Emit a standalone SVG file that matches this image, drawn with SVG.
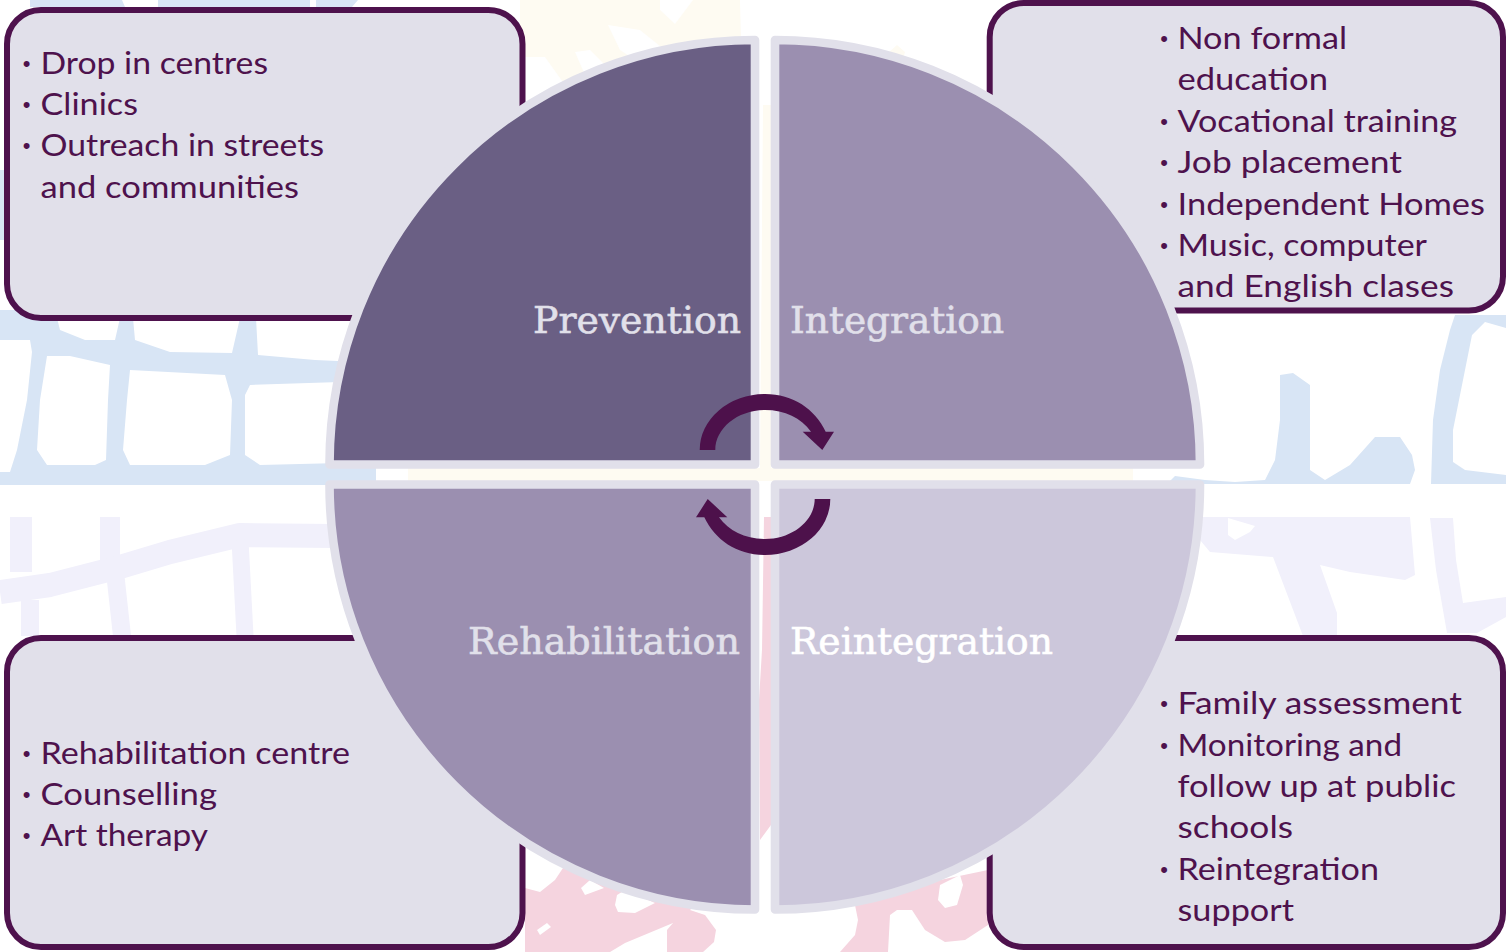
<svg xmlns="http://www.w3.org/2000/svg" width="1506" height="952" viewBox="0 0 1506 952">
<style>
.box{fill:#e1e0ea;stroke:#4e124d;stroke-width:6}
.q{stroke:#e1e0ea;stroke-width:8.6;stroke-linejoin:round}
.t{font-family:"Lato","Noto Sans",sans-serif;font-size:31px;fill:#4e124d}
.b{font-family:"Liberation Sans",sans-serif;font-size:22px;fill:#4e124d;text-anchor:middle}
.h{font-family:"DejaVu Serif","Liberation Serif",serif;font-size:38px;fill:#e1e0ea;stroke:#e1e0ea;stroke-width:.6}
.blue{fill:#d8e5f5}.lav{fill:#f1f0fb}.pink{fill:#f5d4df}.cream{fill:#fefbf2}.w{fill:#fff}
.lavl{fill:none;stroke:#f1f0fb;stroke-linejoin:round}
</style>
<defs>
<path id="curve" d="M699.7 450A65.3 56 0 0 1 765 394C793 394 815 409 825.7 431.7L834 431.7L822.3 450L802.7 431.7L811 431.7C801 418 785 410 765 410C738 410 715.3 428 715.3 450Z"/>
</defs>
<rect width="1506" height="952" fill="#fff"/>
<g id="background">
<path class="cream" d="M520 0H740L741 40L735 100H520Z"/>
<path class="w" d="M660 0H693L675 24L660 10ZM608 25L640 30L665 50L650 70L620 50ZM575 52L590 50L610 70L585 75ZM525 57L545 57L565 85L525 105Z"/>
<path class="cream" d="M408 468H1133V481H408ZM763 105H771V468H760Z"/>
<path class="cream" d="M880 60L897 45L905 52L900 70Z"/>
<path class="blue" d="M0 310H340V465H376V485H0Z"/>
<path class="w" d="M0 340H30L32 352L27 400L17 450L10 472H0ZM47 356H70L110 365L108 400L106 460L95 465H47L37 450L40 400ZM130 370L225 375L232 400L230 455L205 465H130L123 450L127 400ZM250 385L340 382V463L260 465L245 455V395ZM57 318H120L115 340L85 340L60 330ZM133 318H240L232 353L170 352L135 340ZM256 318H360V362L315 360L258 355Z"/>
<path class="blue" d="M30 0H122L125 7H30ZM158 0H310V7H158ZM316 0H358L352 7H316ZM0 170H4V240H0Z"/>
<path class="blue" d="M1167 484L1175 476L1205 480L1235 482L1265 480L1275 460L1280 420V375L1293 373L1310 385V470L1325 480L1350 465L1375 437H1400L1412 455L1415 470L1410 484Z"/>
<path class="blue" d="M1431 484L1433 420L1440 370L1450 330L1455 315H1506V328L1485 322L1472 335L1465 370L1453 430V462L1465 470L1506 475V484Z"/>
<g class="lavl">
<path stroke-width="22" d="M21 517V572"/>
<path stroke-width="20" d="M110 517V560"/>
<path stroke-width="24" d="M0 592L50 585L120 567L170 552L240 535L335 536"/>
<path stroke-width="18" d="M115 572L122 636M30 600L30 636"/>
<path stroke-width="17" d="M240 540L245 636"/>
</g>
<path class="lav" d="M1200 517H1410L1415 575L1405 580L1350 572L1320 565L1337 613V636H1303L1273 557L1210 552L1200 540Z"/>
<path class="w" d="M1228 518L1255 526L1250 532L1235 540L1228 535Z"/>
<path class="lav" d="M1430 518H1453L1456 560L1463 603L1506 597V617L1477 633H1447L1436 570Z"/>
<path class="pink" d="M525 888L540 892L555 880L565 865L600 850L700 900L690 910L705 915L716 930L714 942L703 952H667V930L673 923L625 943L610 952H525Z"/>
<path class="w" d="M581 888L590 880L604 888L585 895ZM617 895L625 890L655 903L635 913L618 912L615 905ZM537 930L547 923L551 927L540 935Z"/>
<path class="pink" d="M855 905L858 920L855 935L840 952H888L890 915L897 910L912 910L925 930L945 942L965 940L988 925V870L940 880Z"/>
<path class="w" d="M940 885L960 875L963 885L957 905L945 908L938 900Z"/>
<path class="pink" d="M764 517H771V825L760 840L759 700L762 650Z"/>
</g>
<g id="node-prevention-list">
<rect class="box" x="7" y="10" width="515.5" height="308" rx="34"/>
<text class="b" x="26.5" y="71">•</text><text class="b" x="26.5" y="112">•</text><text class="b" x="26.5" y="153">•</text>
<text class="t" x="40.5" y="73.6" textLength="227.5" lengthAdjust="spacingAndGlyphs">Drop in centres</text>
<text class="t" x="40.5" y="114.5" textLength="97.5" lengthAdjust="spacingAndGlyphs">Clinics</text>
<text class="t" x="40.5" y="155.5" textLength="283.5" lengthAdjust="spacingAndGlyphs">Outreach in streets</text>
<text class="t" x="40.5" y="197.6" textLength="258.5" lengthAdjust="spacingAndGlyphs">and communities</text>
</g>
<g id="node-integration-list">
<rect class="box" x="989.7" y="3" width="513.3" height="307.5" rx="34"/>
<text class="b" x="1164" y="46">•</text><text class="b" x="1164" y="129">•</text><text class="b" x="1164" y="170">•</text><text class="b" x="1164" y="212">•</text><text class="b" x="1164" y="253">•</text>
<text class="t" x="1177.5" y="49" textLength="169.5" lengthAdjust="spacingAndGlyphs">Non formal</text>
<text class="t" x="1177.5" y="90" textLength="150.5" lengthAdjust="spacingAndGlyphs">education</text>
<text class="t" x="1177.5" y="132" textLength="279.5" lengthAdjust="spacingAndGlyphs">Vocational training</text>
<text class="t" x="1177.5" y="173" textLength="224.5" lengthAdjust="spacingAndGlyphs">Job placement</text>
<text class="t" x="1177.5" y="215" textLength="307.5" lengthAdjust="spacingAndGlyphs">Independent Homes</text>
<text class="t" x="1177.5" y="256" textLength="249.5" lengthAdjust="spacingAndGlyphs">Music, computer</text>
<text class="t" x="1177.5" y="297" textLength="276.5" lengthAdjust="spacingAndGlyphs">and English clases</text>
</g>
<g id="node-rehabilitation-list">
<rect class="box" x="7" y="638" width="515.5" height="309" rx="34"/>
<text class="b" x="26.5" y="761">•</text><text class="b" x="26.5" y="802">•</text><text class="b" x="26.5" y="843">•</text>
<text class="t" x="40.5" y="763.6" textLength="309.5" lengthAdjust="spacingAndGlyphs">Rehabilitation centre</text>
<text class="t" x="40.5" y="804.5" textLength="176.5" lengthAdjust="spacingAndGlyphs">Counselling</text>
<text class="t" x="40.5" y="846" textLength="167.5" lengthAdjust="spacingAndGlyphs">Art therapy</text>
</g>
<g id="node-reintegration-list">
<rect class="box" x="989.7" y="638" width="513.3" height="309" rx="34"/>
<text class="b" x="1164" y="711">•</text><text class="b" x="1164" y="753">•</text><text class="b" x="1164" y="877">•</text>
<text class="t" x="1177.5" y="714" textLength="284.5" lengthAdjust="spacingAndGlyphs">Family assessment</text>
<text class="t" x="1177.5" y="755.6" textLength="224.5" lengthAdjust="spacingAndGlyphs">Monitoring and</text>
<text class="t" x="1177.5" y="797" textLength="278.5" lengthAdjust="spacingAndGlyphs">follow up at public</text>
<text class="t" x="1177.5" y="838" textLength="115.5" lengthAdjust="spacingAndGlyphs">schools</text>
<text class="t" x="1177.5" y="880" textLength="201.5" lengthAdjust="spacingAndGlyphs">Reintegration</text>
<text class="t" x="1177.5" y="921" textLength="116.5" lengthAdjust="spacingAndGlyphs">support</text>
</g>
<g id="node-prevention">
<path class="q" fill="#6a5f84" d="M755 464.5H329.5A425.5 424.5 0 0 1 755 40Z"/>
<text class="h" x="533" y="333" textLength="208" lengthAdjust="spacingAndGlyphs">Prevention</text>
</g>
<g id="node-integration">
<path class="q" fill="#9b8fb0" d="M775 464.5H1200A425 424.5 0 0 0 775 40Z"/>
<text class="h" x="790" y="333" textLength="214" lengthAdjust="spacingAndGlyphs">Integration</text>
</g>
<g id="node-rehabilitation">
<path class="q" fill="#9b8fb0" d="M755 484.5H329.5A425.5 425 0 0 0 755 909.5Z"/>
<text class="h" x="468" y="654" textLength="272" lengthAdjust="spacingAndGlyphs">Rehabilitation</text>
</g>
<g id="node-reintegration">
<path class="q" fill="#ccc7db" d="M775 484.5H1200A425 425 0 0 1 775 909.5Z"/>
<text class="h" x="790" y="654" textLength="263" lengthAdjust="spacingAndGlyphs" style="fill:#fff;stroke:#fff">Reintegration</text>
</g>
<g id="connectors" fill="#4d114b">
<use href="#curve"/>
<use href="#curve" transform="rotate(180 765 474.5)"/>
</g>
</svg>
